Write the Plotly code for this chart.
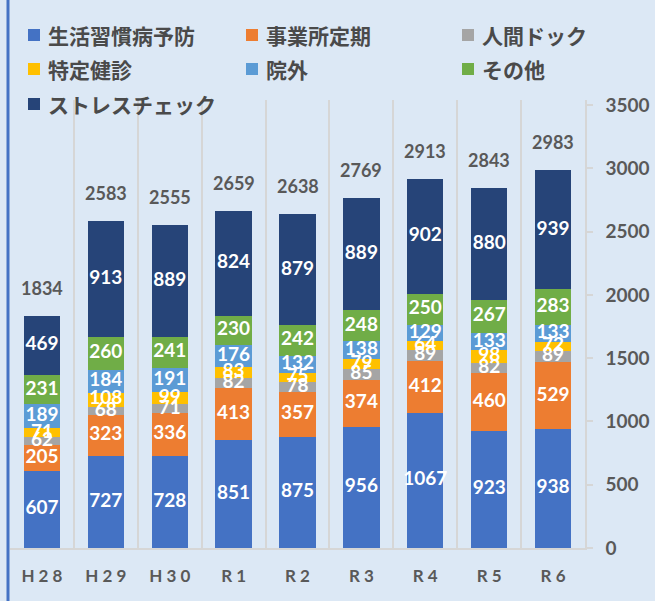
import plotly.graph_objects as go

years = ["H28", "H29", "H30", "R1", "R2", "R3", "R4", "R5", "R6"]
year_ticks = ["H 2 8", "H 2 9", "H 3 0", "R 1", "R 2", "R 3", "R 4", "R 5", "R 6"]

lifestyle = [607, 727, 728, 851, 875, 956, 1067, 923, 938]
workplace = [205, 323, 336, 413, 357, 374, 412, 460, 529]
dock = [62, 68, 71, 82, 78, 85, 89, 82, 89]
specific = [71, 108, 99, 83, 75, 79, 64, 98, 72]
outside = [189, 184, 191, 176, 132, 138, 129, 133, 133]
other = [231, 260, 241, 230, 242, 248, 250, 267, 283]
stress = [469, 913, 889, 824, 879, 889, 902, 880, 939]

series = [
    ("生活習慣病予防", lifestyle, "#4472C4"),
    ("事業所定期", workplace, "#ED7D31"),
    ("人間ドック", dock, "#A5A5A5"),
    ("特定健診", specific, "#FFC000"),
    ("院外", outside, "#5B9BD5"),
    ("その他", other, "#70AD47"),
    ("ストレスチェック", stress, "#264478"),
]

NUM_FONT = "Lato, 'Noto Sans', sans-serif"
JP_FONT = "'Noto Sans CJK JP', sans-serif"
GRAY = "#595959"
BG = "#dce8f5"

W, H = 655, 601
ML, MR, MT, MB = 10, 70, 100, 53
PW, PH = W - ML - MR, H - MT - MB


def px_x(px):
    return (px - ML) / PW


def px_y(py):
    return (H - MB - py) / PH


fig = go.Figure()

# stacked bars
for name, vals, color in series:
    fig.add_trace(go.Bar(
        x=years, y=vals, name=name, marker=dict(color=color, line=dict(width=0)),
        width=0.57, showlegend=False,
    ))

# value labels centred in each segment
base = [0] * len(years)
for name, vals, color in series:
    centers = [b + v / 2 for b, v in zip(base, vals)]
    fig.add_trace(go.Scatter(
        x=years, y=centers, mode="text", text=[str(v) for v in vals],
        textposition="middle center",
        textfont=dict(family=NUM_FONT, size=19, color="white", weight="bold"),
        showlegend=False, hoverinfo="skip",
    ))
    base = [b + v for b, v in zip(base, vals)]

# totals above each stack
totals = base
for yr, tot in zip(years, totals):
    fig.add_annotation(
        x=yr, y=tot, text=str(tot), showarrow=False, yshift=28,
        font=dict(family=NUM_FONT, size=18, color=GRAY, weight="bold"),
    )

# legend: three columns of colour key + label
col_x = [28, 246, 462]
row_y = [35, 69, 104]
for i, (name, vals, color) in enumerate(series):
    cx = col_x[i % 3]
    cy = row_y[i // 3]
    fig.add_shape(type="rect", xref="paper", yref="paper",
                  x0=px_x(cx), x1=px_x(cx + 12), y0=px_y(cy + 6), y1=px_y(cy - 6),
                  fillcolor=color, line=dict(width=0))
    fig.add_annotation(
        xref="paper", yref="paper", x=px_x(cx + 18), y=px_y(cy),
        xanchor="left", yanchor="middle", showarrow=False, text=name,
        font=dict(family=JP_FONT, size=21, color="#4a4a4a", weight="bold"),
    )

# left accent border
fig.add_shape(type="line", xref="paper", yref="paper",
              x0=px_x(8), x1=px_x(8), y0=px_y(H + 5), y1=px_y(-5),
              line=dict(color="#4472C4", width=3))

fig.update_layout(
    width=W, height=H,
    margin=dict(l=ML, r=MR, t=MT, b=MB, autoexpand=False),
    paper_bgcolor=BG, plot_bgcolor=BG,
    barmode="stack", bargap=0.43,
    showlegend=False,
    xaxis=dict(
        type="category", tickvals=years, ticktext=year_ticks,
        tickson="boundaries", showgrid=True, gridcolor="#d6d6d6", gridwidth=1.5,
        showline=True, linecolor="#d6d6d6", linewidth=1.5,
        ticks="", ticklen=0, automargin=False,
        tickfont=dict(family=NUM_FONT, size=17, color=GRAY, weight="bold"),
        ticklabelstandoff=12,
    ),
    yaxis=dict(
        side="right", range=[0, 3540], tickvals=[0, 500, 1000, 1500, 2000, 2500, 3000, 3500],
        showgrid=False, zeroline=False, automargin=False,
        showline=True, linecolor="#d6d6d6", linewidth=1.5,
        ticks="outside", ticklen=6, tickcolor="#d6d6d6", tickwidth=1.5,
        tickfont=dict(family=NUM_FONT, size=19, color=GRAY, weight="bold"),
        ticklabelstandoff=9,
    ),
)

fig.write_html("out.html")
